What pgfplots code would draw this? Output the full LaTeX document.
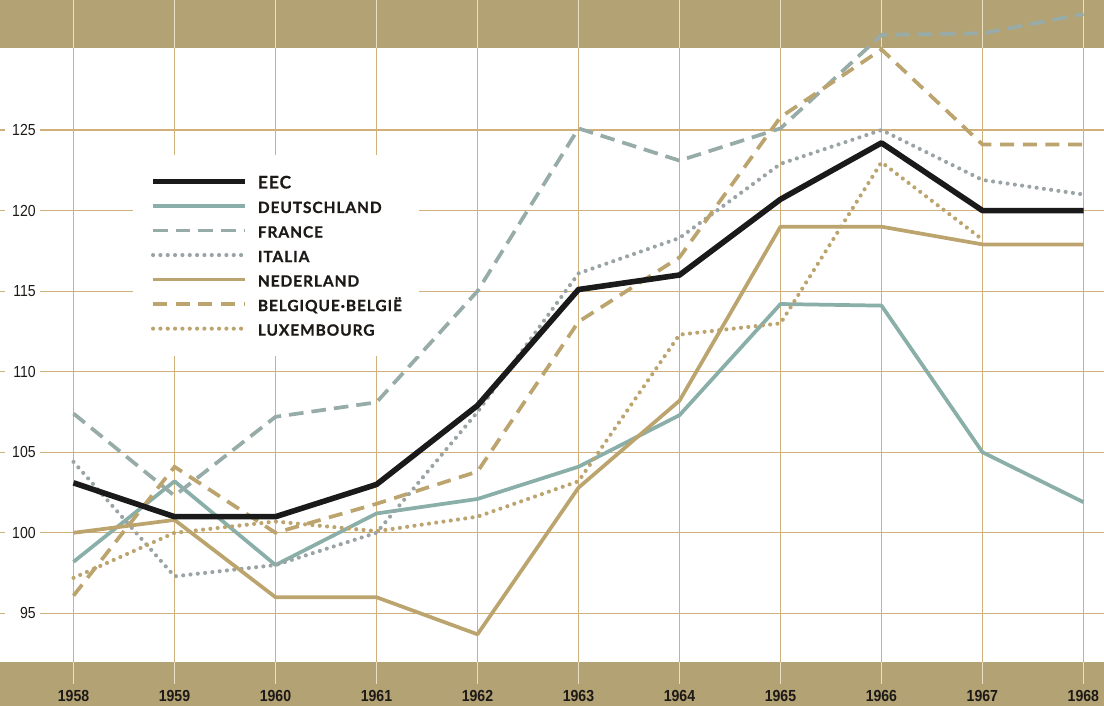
\documentclass[border=0pt]{standalone}
\usepackage{fontspec}
\usepackage{pgfplots}
\pgfplotsset{compat=1.18}
\setmainfont{Liberation Sans}
\newfontfamily\yearfont{Liberation Sans}[FakeStretch=0.88]
\newfontfamily\numfont{Liberation Sans}[FakeStretch=0.88]
\newfontfamily\legfont{Lato}[LetterSpace=6, BoldFeatures={FakeBold=0.8}]

\definecolor{band}{HTML}{B3A274}
\definecolor{bandline}{HTML}{E9DFC4}
\definecolor{gridc}{HTML}{CFB07A}
\definecolor{txt}{HTML}{1C1917}
\definecolor{eec}{HTML}{1A1A1A}
\definecolor{teal}{HTML}{8AAEA8}
\definecolor{frgray}{HTML}{97ACA8}
\definecolor{itgray}{HTML}{9AA4A6}
\definecolor{tan}{HTML}{BCA46E}

\pgfplotsset{
  eecstyle/.style={eec, line width=4.2pt, line join=round},
  destyle/.style={teal, line width=2.8pt, line join=round},
  frstyle/.style={frgray, line width=2.8pt, dash pattern=on 11pt off 6pt},
  itstyle/.style={itgray, line width=3.1pt, line cap=round, dash pattern=on 0pt off 5.5pt},
  nlstyle/.style={tan, line width=2.8pt, line join=round},
  bestyle/.style={tan, line width=2.8pt, dash pattern=on 10.5pt off 6.5pt},
  lustyle/.style={tan, line width=3.1pt, line cap=round, dash pattern=on 0pt off 5.5pt},
}

\begin{document}
\begin{tikzpicture}
\begin{axis}[
  set layers,
  scale only axis,
  width=828pt, height=529.5pt,
  xmin=1957.272, xmax=1968.203,
  ymin=89.25, ymax=133.07,
  axis line style={draw=none},
  xtick={1958,1959,...,1968},
  xticklabels={1958,1959,1960,1961,1962,1963,1964,1965,1966,1967,1968},
  x tick style={draw=none},
  xticklabel style={anchor=base, yshift=3.2pt, font=\yearfont\bfseries\fontsize{12}{12}\selectfont, text=txt},
  ytick={95,100,...,125},
  ytick pos=left,
  tick align=inside,
  major tick length=3.75pt,
  y tick style={gridc, line width=0.8pt},
  yticklabel style={anchor=east, inner sep=0pt, xshift=27pt, font=\numfont\fontsize{12}{12}\selectfont, text=txt},
  /pgf/number format/assume math mode=true,
  legend cell align=left,
  legend image code/.code={\draw[#1] (0pt,0.6pt) -- (69pt,0.6pt);},
  legend style={at={(axis cs:1958.589,123.45)}, anchor=north west,
    draw=none, fill=white, inner xsep=12.75pt, inner ysep=15.6pt,
    row sep=9.1pt, column sep=7.5pt,
    nodes={inner sep=0pt, text height=9.3pt, text depth=0pt},
    font=\legfont\bfseries\fontsize{11.6}{12}\selectfont, text=txt},
]
\begin{pgfonlayer}{axis background}
  \fill[band] (axis cs:1957.272,130.12) rectangle (axis cs:1968.203,133.07);
  \fill[band] (axis cs:1957.272,89.25) rectangle (axis cs:1968.203,91.95);
\end{pgfonlayer}
\begin{pgfonlayer}{axis grid}
  \pgfplotsinvokeforeach{95,100,...,125}{
    \draw[gridc, line width=0.8pt] (axis cs:1957.67,#1) -- (axis cs:1968.203,#1);
  }
  \pgfplotsinvokeforeach{1958,1959,...,1968}{
    \draw[gridc, line width=0.8pt] (axis cs:#1,91.95) -- (axis cs:#1,130.12);
    \draw[bandline, line width=0.9pt] (axis cs:#1,130.12) -- (axis cs:#1,133.07);
    \draw[bandline, line width=0.9pt] (axis cs:#1,91.95) -- (axis cs:#1,90.6);
  }
\end{pgfonlayer}

\addlegendimage{eecstyle}\addlegendentry{\fontsize{13}{13}\selectfont EEC}
\addlegendimage{destyle}\addlegendentry{DEUTSCHLAND}
\addlegendimage{frstyle}\addlegendentry{FRANCE}
\addlegendimage{itstyle}\addlegendentry{ITALIA}
\addlegendimage{nlstyle}\addlegendentry{NEDERLAND}
\addlegendimage{bestyle}\addlegendentry{BELGIQUE·BELGIË}
\addlegendimage{lustyle}\addlegendentry{LUXEMBOURG}

% Deutschland
\addplot[destyle, forget plot] coordinates {
  (1958,98.2) (1959,103.2) (1960,98.0) (1961,101.2) (1962,102.1) (1963,104.1)
  (1964,107.3) (1965,114.2) (1966,114.1) (1967,105.0) (1968,101.9)};
% France
\addplot[frstyle, forget plot] coordinates {
  (1958,107.4) (1959,102.3) (1960,107.2) (1961,108.1) (1962,115.0) (1963,125.1)
  (1964,123.1) (1965,125.1) (1966,130.9) (1967,131.0) (1968,132.2)};
% Italia
\addplot[itstyle, forget plot] coordinates {
  (1958,104.4) (1959,97.3) (1960,98.0) (1961,100.0) (1962,107.5) (1963,116.1)
  (1964,118.3) (1965,122.9) (1966,125.0) (1967,121.9) (1968,121.0)};
% Nederland
\addplot[nlstyle, forget plot] coordinates {
  (1958,100.0) (1959,100.8) (1960,96.0) (1961,96.0) (1962,93.7) (1963,102.8)
  (1964,108.2) (1965,119.0) (1966,119.0) (1967,117.9) (1968,117.9)};
% Belgique-Belgie
\addplot[bestyle, forget plot] coordinates {
  (1958,96.1) (1959,104.1) (1960,100.0) (1961,101.8) (1962,103.8) (1963,113.1)
  (1964,117.1) (1965,125.8) (1966,130.0) (1967,124.1) (1968,124.1)};
% Luxembourg
\addplot[lustyle, forget plot] coordinates {
  (1958,97.2) (1959,100.0) (1960,100.7) (1961,100.1) (1962,101.0) (1963,103.2)
  (1964,112.3) (1965,113.0) (1966,123.0) (1967,118.2)};
% EEC
\addplot[eecstyle, forget plot] coordinates {
  (1958,103.1) (1959,101.0) (1960,101.0) (1961,103.0) (1962,107.9) (1963,115.1)
  (1964,116.0) (1965,120.7) (1966,124.2) (1967,120.0) (1968,120.0)};
\end{axis}
\pgfresetboundingbox
\useasboundingbox (current axis.south west) rectangle (current axis.north east);
\end{tikzpicture}
\end{document}
